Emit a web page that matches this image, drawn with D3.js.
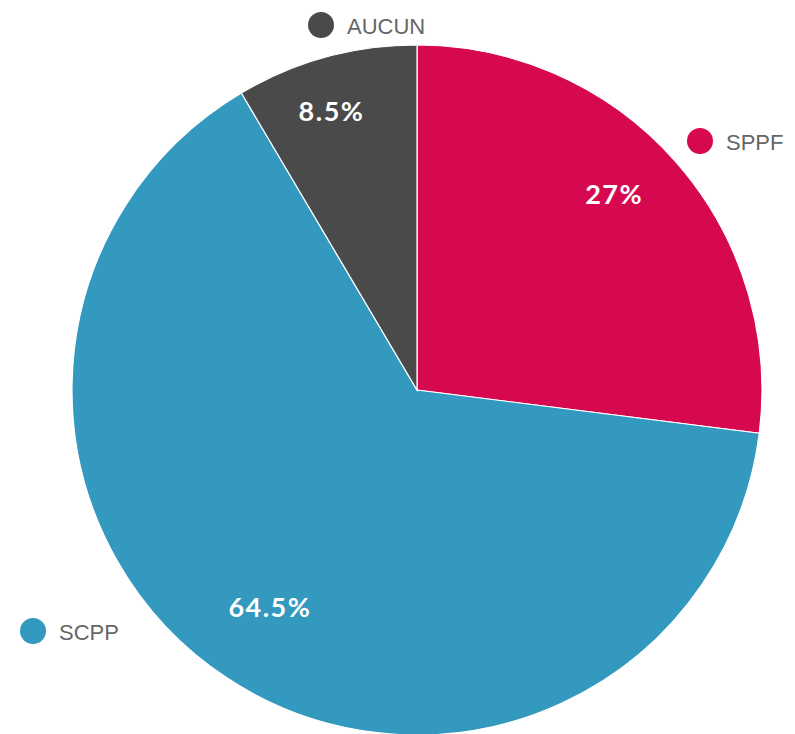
<!DOCTYPE html>
<html><head><meta charset="utf-8">
<script src="https://cdn.jsdelivr.net/npm/d3@7"></script>
<style>html,body{margin:0;padding:0;background:#fff;}</style>
</head><body>
<svg id="chart" width="795" height="734"></svg>
<script>
const categories = ["SPPF", "SCPP", "AUCUN"];
const values = [27, 64.5, 8.5];
const valueLabels = ["27%", "64.5%", "8.5%"];
const colors = ["#d6084f", "#3399be", "#4a4a4a"];

const svg = d3.select("#chart");
const cx = 417, cy = 390, R = 345;
const g = svg.append("g").attr("transform", `translate(${cx},${cy})`);

const data = categories.map((c, i) => ({cat: c, value: values[i], label: valueLabels[i], color: colors[i]}));
const pie = d3.pie().sort(null).value(d => d.value);
const arcs = pie(data);
const arc = d3.arc().innerRadius(0).outerRadius(R);

g.selectAll("path").data(arcs).join("path")
  .attr("d", arc)
  .attr("fill", d => d.data.color)
  .attr("stroke", "#fff")
  .attr("stroke-width", 1.2);

// value labels
const labelRadius = [278, 262, 292];
const angOff = [-0.06, 0.015, -0.03];
function lp(d, i) { const a = (d.startAngle + d.endAngle) / 2 + angOff[i]; return [labelRadius[i] * Math.sin(a), -labelRadius[i] * Math.cos(a)]; }
g.selectAll("text.val").data(arcs).join("text")
  .attr("class", "val")
  .attr("x", (d, i) => lp(d, i)[0])
  .attr("y", (d, i) => lp(d, i)[1])
  .attr("text-anchor", "middle")
  .attr("dominant-baseline", "central")
  .attr("fill", "#fff")
  .attr("font-family", "Lato, 'Open Sans', sans-serif")
  .attr("font-weight", "bold")
  .attr("font-size", 27)
  .attr("letter-spacing", 1.5)
  .text(d => d.data.label);

// legend labels placed beside slices
const legendPos = {SPPF: [700, 141], SCPP: [33, 631], AUCUN: [321, 25]};
const lg = svg.append("g");
data.forEach(d => {
  const [x, y] = legendPos[d.cat];
  lg.append("circle").attr("cx", x).attr("cy", y).attr("r", 13).attr("fill", d.color);
  lg.append("text").attr("x", x + 26).attr("y", y + 1)
    .attr("dominant-baseline", "central")
    .attr("fill", "#666")
    .attr("font-family", "'Liberation Sans', Arial, sans-serif")
    .attr("font-size", 22)
    .text(d.cat);
});
</script>
</body></html>
